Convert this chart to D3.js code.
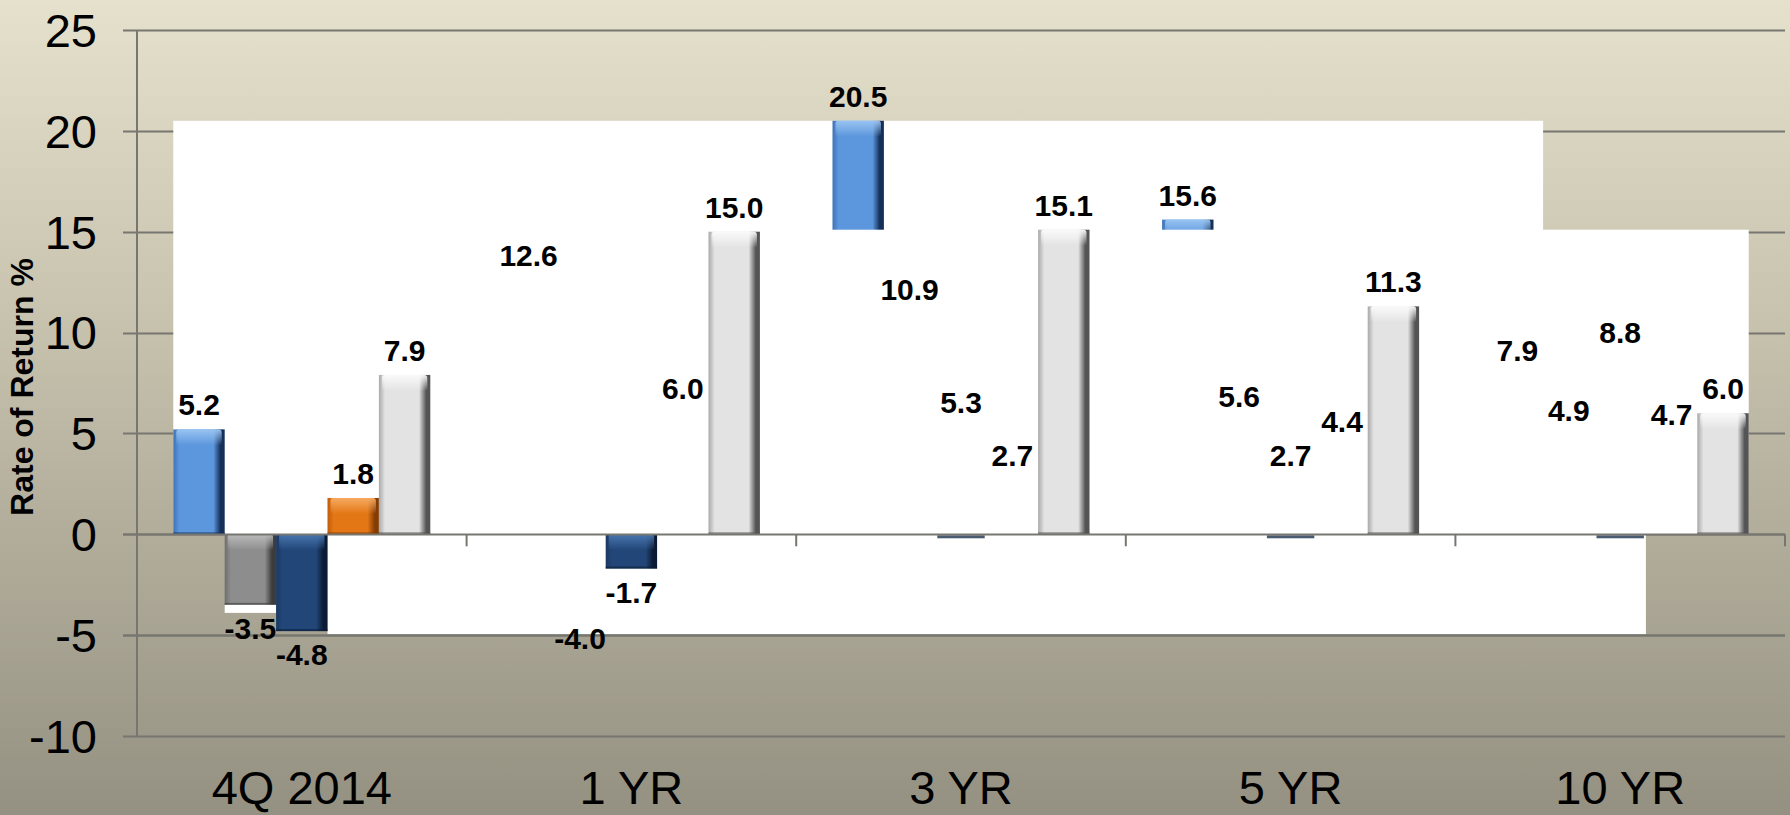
<!DOCTYPE html>
<html>
<head>
<meta charset="utf-8">
<script src="https://cdn.jsdelivr.net/npm/d3@7"></script>
<style>
  html, body { margin: 0; padding: 0; background: #cfcab6; }
  svg { display: block; }
</style>
</head>
<body>
<svg id="chart" width="1790" height="815"></svg>
<script>
// Periods and the five return series
const categories = ["4Q 2014", "1 YR", "3 YR", "5 YR", "10 YR"];
const seriesNames = ["s1", "s2", "s3", "s4", "s5"];
const s1 = [5.2, 12.6, 20.5, 15.6, 7.9];
const s2 = [-3.5, -4.0, 10.9, 5.6, 4.9];
const s3 = [-4.8, -1.7, 5.3, 2.7, 8.8];
const s4 = [1.8, 6.0, 2.7, 4.4, 4.7];
const s5 = [7.9, 15.0, 15.1, 11.3, 6.0];
const yTicks = [-10, -5, 0, 5, 10, 15, 20, 25];
const yTitle = "Rate of Return %";

const seriesValues = [s1, s2, s3, s4, s5];

// bar colour palettes: left edge, body, right edge, top cap
const palette = [
  { left: "#3f74b6", body: "#5c96dd", right: "#142f58", cap: "#9cc6f3" },
  { left: "#6e6e6e", body: "#8d8d8d", right: "#3c3c3c", cap: "#bdbdbd" },
  { left: "#1a3863", body: "#214677", right: "#0b1b36", cap: "#4a78b2" },
  { left: "#c25c0a", body: "#e37716", right: "#843c05", cap: "#f7ad64" },
  { left: "#a9a9a9", body: "#e3e3e3", right: "#545454", cap: "#fbfbfb" }
];

const svg = d3.select("#chart");
const W = 1790, H = 815;
const plot = { left: 137, right: 1785, top: 30, bottom: 736 };
const font = "Liberation Sans, Arial, sans-serif";

const defs = svg.append("defs");
const bg = defs.append("linearGradient").attr("id", "bg")
  .attr("x1", 0).attr("y1", 0).attr("x2", 0).attr("y2", 1);
bg.append("stop").attr("offset", 0).attr("stop-color", "#e6e1cc");
bg.append("stop").attr("offset", 0.45).attr("stop-color", "#c3beaa");
bg.append("stop").attr("offset", 1).attr("stop-color", "#959182");

palette.forEach((p, i) => {
  const g = defs.append("linearGradient").attr("id", "bar" + i)
    .attr("x1", 0).attr("y1", 0).attr("x2", 1).attr("y2", 0);
  g.append("stop").attr("offset", 0).attr("stop-color", p.left);
  g.append("stop").attr("offset", 0.12).attr("stop-color", p.body);
  g.append("stop").attr("offset", 0.78).attr("stop-color", p.body);
  g.append("stop").attr("offset", 0.92).attr("stop-color", p.right);
  g.append("stop").attr("offset", 1).attr("stop-color", p.right);
  const c = defs.append("linearGradient").attr("id", "cap" + i)
    .attr("x1", 0).attr("y1", 0).attr("x2", 0).attr("y2", 1);
  c.append("stop").attr("offset", 0).attr("stop-color", p.cap).attr("stop-opacity", 0.95);
  c.append("stop").attr("offset", 1).attr("stop-color", p.cap).attr("stop-opacity", 0);
});

svg.append("rect").attr("width", W).attr("height", H).attr("fill", "url(#bg)");

const y = d3.scaleLinear().domain([-10, 25]).range([plot.bottom, plot.top]);
const x = d3.scaleBand().domain(categories).range([plot.left, plot.right]).padding(0);
const xs = d3.scaleBand().domain(seriesNames).range([0, x.bandwidth()])
  .paddingInner(0).paddingOuter(0.706);
const bw = xs.bandwidth();
const barX = (ci, si) => x(categories[ci]) + xs(seriesNames[si]);

// grid lines with short outward ticks on the value axis
svg.append("g").selectAll("line").data(yTicks).join("line")
  .attr("x1", plot.left - 14).attr("x2", plot.right)
  .attr("y1", d => Math.round(y(d)) + 0.5).attr("y2", d => Math.round(y(d)) + 0.5)
  .attr("stroke", "#777670").attr("stroke-width", 2);
svg.append("line").attr("x1", plot.left).attr("x2", plot.left)
  .attr("y1", y(25)).attr("y2", y(-10))
  .attr("stroke", "#777670").attr("stroke-width", 2);

svg.append("g").selectAll("text").data(yTicks).join("text")
  .attr("x", 97).attr("y", d => y(d))
  .attr("dy", "0.36em").attr("text-anchor", "end")
  .attr("font-family", font)
  .attr("font-size", 47).attr("fill", "#000")
  .text(d => String(d));

svg.append("text")
  .attr("transform", `translate(33,${y(7.3)}) rotate(-90)`)
  .attr("text-anchor", "middle")
  .attr("font-family", font)
  .attr("font-weight", "bold").attr("font-size", 32).attr("fill", "#000")
  .text(yTitle);

// white panels laid over parts of the plot
const white = (x0, x1, y0, y1) => svg.append("rect")
  .attr("x", x0).attr("y", y0).attr("width", x1 - x0).attr("height", y1 - y0)
  .attr("fill", "#ffffff");

const maxAll = d3.max(seriesValues.flat());
const maxS5 = d3.max(s5);
const last = categories.length - 1;

white(barX(0, 0), barX(last, 0) + bw, y(maxAll), y(0));

function drawBars(si) {
  const g = svg.append("g");
  const data = seriesValues[si].map((v, ci) => ({ v, ci }));
  const bars = g.selectAll("g").data(data).join("g");
  bars.append("rect")
    .attr("x", d => barX(d.ci, si)).attr("width", bw)
    .attr("y", d => y(Math.max(0, d.v)))
    .attr("height", d => Math.abs(y(d.v) - y(0)))
    .attr("fill", `url(#bar${si})`);
  bars.append("rect")
    .attr("x", d => barX(d.ci, si) + 3).attr("width", bw - 6)
    .attr("y", d => y(Math.max(0, d.v)))
    .attr("height", d => Math.min(16, Math.abs(y(d.v) - y(0))))
    .attr("rx", 3)
    .attr("fill", `url(#cap${si})`);
  bars.append("rect")
    .attr("x", d => barX(d.ci, si)).attr("width", bw)
    .attr("y", d => y(Math.min(0, d.v)) - 2).attr("height", 2)
    .attr("fill", palette[si].right).attr("opacity", 0.6);
  return g;
}

drawBars(0);
drawBars(1);

// light strip under the first negative bar of series 2
white(barX(0, 1), barX(0, 1) + bw, y(s2[0]), y(s2[0]) + 8);

white(barX(0, 2) + bw, barX(last, 2) + bw, y(0), y(-5) - 1);

drawBars(2);
drawBars(3);

white(x(categories[1]), barX(last, 4) + bw, y(maxS5), y(0));

// base edges of the covered positive bars of series 3
svg.append("g").selectAll("rect")
  .data(s3.map((v, ci) => ({ v, ci })).filter(d => d.v > 0)).join("rect")
  .attr("x", d => barX(d.ci, 2) + 2).attr("width", bw - 4)
  .attr("y", y(0) + 1).attr("height", 3)
  .attr("fill", "#4a5a70");

drawBars(4);

// zero line, category ticks and the -5 line drawn on top
[0, -5].forEach(v => svg.append("line")
  .attr("x1", plot.left - 14).attr("x2", plot.right)
  .attr("y1", Math.round(y(v)) + 0.5).attr("y2", Math.round(y(v)) + 0.5)
  .attr("stroke", "#777670").attr("stroke-width", 2));
svg.append("g").selectAll("line").data(categories.slice(1).concat(["end"])).join("line")
  .attr("x1", (d, i) => i < last ? x(d) : plot.right)
  .attr("x2", (d, i) => i < last ? x(d) : plot.right)
  .attr("y1", y(0)).attr("y2", y(0) + 12)
  .attr("stroke", "#777670").attr("stroke-width", 2);

svg.append("g").selectAll("text").data(categories).join("text")
  .attr("x", d => x(d) + x.bandwidth() / 2).attr("y", 804)
  .attr("text-anchor", "middle")
  .attr("font-family", font)
  .attr("font-size", 47).attr("fill", "#000")
  .text(d => d);

// value labels, with a plain hyphen for negatives
const fmt = d3.formatLocale({ decimal: ".", thousands: ",", grouping: [3], currency: ["$", ""], minus: "-" }).format(".1f");
const labels = [];
seriesValues.forEach((vals, si) => vals.forEach((v, ci) => labels.push({ v, ci, si })));
svg.append("g").selectAll("text").data(labels).join("text")
  .attr("x", d => barX(d.ci, d.si) + bw / 2)
  .attr("y", d => d.v >= 0 ? y(d.v) - 14 : y(d.v) + 34)
  .attr("text-anchor", "middle")
  .attr("font-family", font)
  .attr("font-weight", "bold").attr("font-size", 30).attr("fill", "#000")
  .text(d => fmt(d.v));
</script>
</body>
</html>
